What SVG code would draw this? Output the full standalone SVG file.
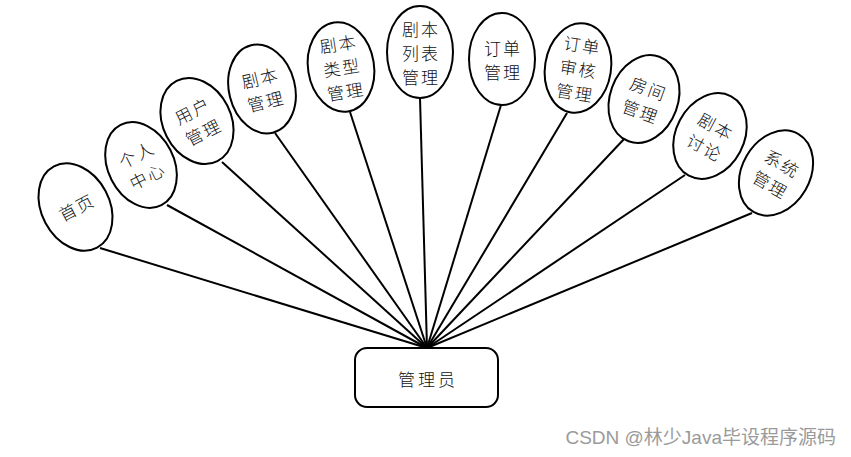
<svg xmlns="http://www.w3.org/2000/svg" width="851" height="457" viewBox="0 0 851 457">
<style>
.bg{fill:#fff}
.el{fill:#fff;stroke:#000;stroke-width:2}
.box{fill:#fff;stroke:#000;stroke-width:2}
.ln{stroke:#000;stroke-width:2;fill:none}
.t{font-family:"Noto Sans CJK SC","Liberation Sans",sans-serif;font-size:17px;font-weight:300;fill:#111;text-anchor:middle;dominant-baseline:central;letter-spacing:2px}
.wm{font-family:"Liberation Sans","Noto Sans CJK SC",sans-serif;font-size:19px;fill:#9a9a9a;text-anchor:end}
</style>
<rect class="bg" x="0" y="0" width="851" height="457"/>
<g id="connectors">
<line class="ln" x1="427" y1="348" x2="100" y2="248"/>
<line class="ln" x1="427" y1="348" x2="167" y2="205"/>
<line class="ln" x1="427" y1="348" x2="222" y2="162"/>
<line class="ln" x1="427" y1="348" x2="275" y2="133"/>
<line class="ln" x1="427" y1="348" x2="350" y2="112"/>
<line class="ln" x1="427" y1="348" x2="420" y2="98"/>
<line class="ln" x1="427" y1="348" x2="501" y2="105"/>
<line class="ln" x1="427" y1="348" x2="567" y2="113"/>
<line class="ln" x1="427" y1="348" x2="625" y2="138"/>
<line class="ln" x1="427" y1="348" x2="685" y2="175"/>
<line class="ln" x1="427" y1="348" x2="752" y2="213"/>
</g>
<g id="n-home" transform="translate(75.5,207) rotate(-28)">
<ellipse class="el" cx="0" cy="0" rx="34" ry="46"/>
<text class="t" x="1" y="0">首页</text>
</g>
<g id="n-personal" transform="translate(141,165) rotate(-27)">
<ellipse class="el" cx="0" cy="0" rx="33" ry="45"/>
<text class="t" x="1" y="-12">个人</text>
<text class="t" x="1" y="12">中心</text>
</g>
<g id="n-user" transform="translate(197,121) rotate(-27)">
<ellipse class="el" cx="0" cy="0" rx="34" ry="45"/>
<text class="t" x="1" y="-12">用户</text>
<text class="t" x="1" y="12">管理</text>
</g>
<g id="n-script" transform="translate(262,89) rotate(-14)">
<ellipse class="el" cx="0" cy="0" rx="33" ry="45"/>
<text class="t" x="1" y="-12">剧本</text>
<text class="t" x="1" y="12">管理</text>
</g>
<g id="n-scripttype" transform="translate(341,67) rotate(-9)">
<ellipse class="el" cx="0" cy="0" rx="33" ry="45"/>
<text class="t" x="1" y="-24">剧本</text>
<text class="t" x="1" y="0">类型</text>
<text class="t" x="1" y="24">管理</text>
</g>
<g id="n-scriptlist" transform="translate(420,52)">
<ellipse class="el" cx="0" cy="0" rx="33" ry="46"/>
<text class="t" x="1" y="-24">剧本</text>
<text class="t" x="1" y="0">列表</text>
<text class="t" x="1" y="24">管理</text>
</g>
<g id="n-order" transform="translate(502,59)">
<ellipse class="el" cx="0" cy="0" rx="33" ry="46"/>
<text class="t" x="1" y="-12">订单</text>
<text class="t" x="1" y="12">管理</text>
</g>
<g id="n-orderreview" transform="translate(578,68) rotate(9)">
<ellipse class="el" cx="0" cy="0" rx="33" ry="45"/>
<text class="t" x="1" y="-24">订单</text>
<text class="t" x="1" y="0">审核</text>
<text class="t" x="1" y="24">管理</text>
</g>
<g id="n-room" transform="translate(644,99) rotate(20)">
<ellipse class="el" cx="0" cy="0" rx="34" ry="45"/>
<text class="t" x="1" y="-12">房间</text>
<text class="t" x="1" y="12">管理</text>
</g>
<g id="n-discuss" transform="translate(710,136) rotate(28)">
<ellipse class="el" cx="0" cy="0" rx="34" ry="45"/>
<text class="t" x="1" y="-12">剧本</text>
<text class="t" x="1" y="12">讨论</text>
</g>
<g id="n-system" transform="translate(776,173) rotate(30)">
<ellipse class="el" cx="0" cy="0" rx="34" ry="45"/>
<text class="t" x="1" y="-12">系统</text>
<text class="t" x="1" y="12">管理</text>
</g>
<g id="n-admin">
<rect class="box" x="355" y="348" width="143" height="59" rx="12" ry="12"/>
<text class="t" x="428" y="378" style="letter-spacing:3px">管理员</text>
</g>
<text class="wm" x="836" y="444">CSDN @林少Java毕设程序源码</text>
</svg>
